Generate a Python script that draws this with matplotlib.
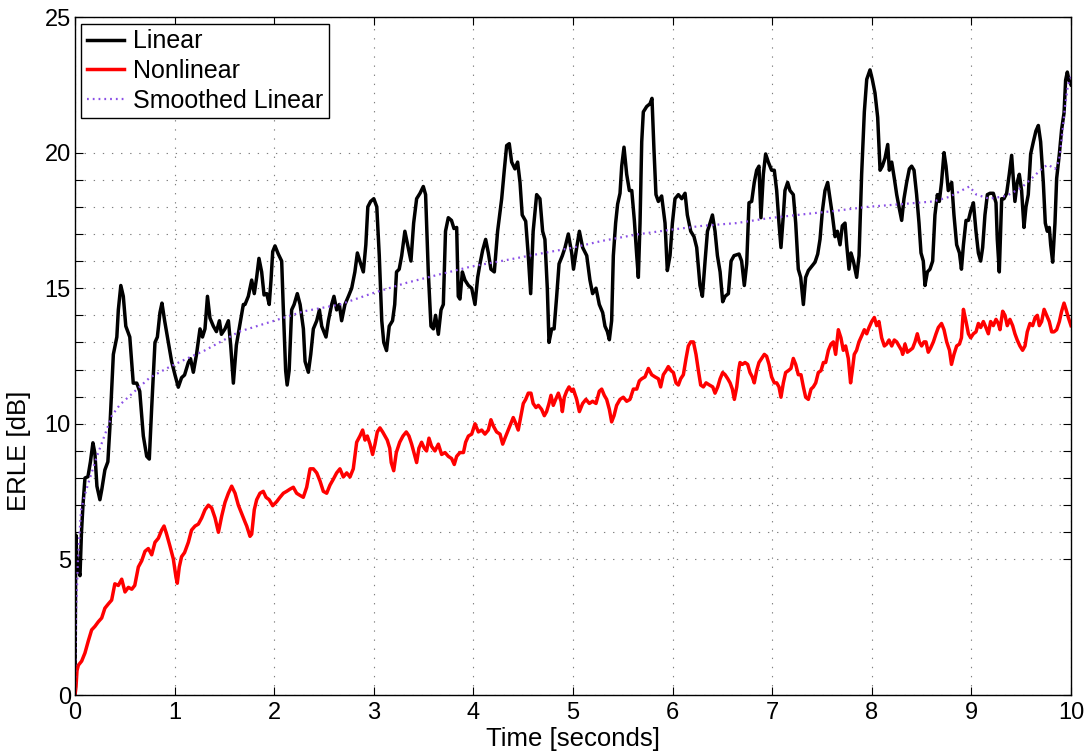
import matplotlib
matplotlib.use("Agg")
import matplotlib.pyplot as plt

plt.rcParams['font.family'] = ['Liberation Sans', 'DejaVu Sans']

# ---------------- data ----------------
linear_t = [0.000, 0.008, 0.02, 0.035, 0.05, 0.065, 0.08, 0.10, 0.13, 0.155, 0.18, 0.20, 0.22, 0.25, 0.27,
            0.30, 0.33, 0.35, 0.385, 0.42, 0.435, 0.46, 0.485, 0.51, 0.55, 0.585, 0.62, 0.65, 0.686, 0.72,
            0.746, 0.77, 0.803, 0.827, 0.853, 0.873, 0.90, 0.937, 0.97, 1.004, 1.037, 1.07, 1.10, 1.138,
            1.16, 1.188, 1.22, 1.255, 1.28, 1.305, 1.33, 1.355, 1.389, 1.42, 1.45, 1.47, 1.506, 1.54,
            1.563, 1.59, 1.62, 1.657, 1.69, 1.707, 1.74, 1.774, 1.80, 1.824, 1.847, 1.874, 1.898, 1.925,
            1.95, 1.968, 1.985, 2.008, 2.041, 2.075, 2.09, 2.115, 2.13, 2.15, 2.175, 2.20, 2.232, 2.26,
            2.293, 2.31, 2.343, 2.367, 2.393, 2.427, 2.454, 2.477, 2.52, 2.544, 2.577, 2.60, 2.627, 2.654,
            2.677, 2.71, 2.745, 2.778, 2.81, 2.835, 2.86, 2.895, 2.92, 2.94, 2.968, 3.00, 3.03, 3.055,
            3.08, 3.10, 3.128, 3.155, 3.188, 3.21, 3.228, 3.255, 3.28, 3.312, 3.345, 3.373, 3.40, 3.43,
            3.464, 3.497, 3.52, 3.547, 3.574, 3.598, 3.62, 3.648, 3.675, 3.698, 3.72, 3.748, 3.78, 3.805,
            3.832, 3.848, 3.865, 3.889, 3.915, 3.95, 3.983, 4.016, 4.043, 4.066, 4.093, 4.123, 4.15,
            4.176, 4.21, 4.243, 4.284, 4.31, 4.334, 4.36, 4.384, 4.417, 4.444, 4.468, 4.49, 4.525, 4.551,
            4.575, 4.60, 4.635, 4.668, 4.695, 4.718, 4.742, 4.759, 4.786, 4.81, 4.836, 4.86, 4.893, 4.92,
            4.953, 4.987, 5.005, 5.037, 5.064, 5.097, 5.138, 5.17, 5.197, 5.231, 5.264, 5.298, 5.321,
            5.345, 5.365, 5.388, 5.405, 5.428, 5.448, 5.472, 5.489, 5.512, 5.539, 5.566, 5.59, 5.616,
            5.64, 5.656, 5.673, 5.69, 5.706, 5.74, 5.773, 5.793, 5.813, 5.833, 5.857, 5.89, 5.924, 5.947,
            5.974, 5.998, 6.024, 6.058, 6.092, 6.125, 6.148, 6.182, 6.215, 6.242, 6.275, 6.299, 6.326,
            6.35, 6.376, 6.40, 6.426, 6.45, 6.477, 6.503, 6.527, 6.56, 6.587, 6.617, 6.667, 6.693, 6.72,
            6.744, 6.767, 6.794, 6.82, 6.844, 6.867, 6.887, 6.911, 6.934, 6.961, 6.994, 7.021, 7.045,
            7.068, 7.088, 7.112, 7.128, 7.155, 7.179, 7.212, 7.236, 7.262, 7.286, 7.313, 7.336, 7.363,
            7.396, 7.43, 7.457, 7.48, 7.504, 7.53, 7.557, 7.581, 7.604, 7.631, 7.654, 7.681, 7.704,
            7.731, 7.748, 7.771, 7.791, 7.815, 7.831, 7.848, 7.872, 7.898, 7.925, 7.949, 7.982, 8.005,
            8.032, 8.059, 8.083, 8.106, 8.133, 8.16, 8.176, 8.20, 8.226, 8.25, 8.273, 8.30, 8.323, 8.35,
            8.377, 8.40, 8.424, 8.45, 8.474, 8.494, 8.517, 8.534, 8.558, 8.584, 8.611, 8.634, 8.658,
            8.678, 8.70, 8.725, 8.745, 8.768, 8.802, 8.825, 8.852, 8.88, 8.90, 8.92, 8.946, 8.97, 8.993,
            9.02, 9.046, 9.07, 9.093, 9.113, 9.136, 9.16, 9.187, 9.22, 9.247, 9.26, 9.28, 9.304, 9.327,
            9.354, 9.38, 9.404, 9.42, 9.437, 9.46, 9.481, 9.504, 9.528, 9.548, 9.571, 9.595, 9.622,
            9.648, 9.672, 9.695, 9.722, 9.742, 9.762, 9.782, 9.796, 9.816, 9.839, 9.856, 9.883, 9.906,
            9.93, 9.946, 9.963, 9.98, 10.0]
linear_db = [0.0, 5.9, 5.0, 4.6, 4.4, 6.0, 7.0, 8.0, 8.05, 8.6, 9.3, 8.9, 7.7, 7.2, 7.6,
             8.3, 8.6, 9.85, 12.56, 13.2, 14.2, 15.1, 14.7, 13.6, 13.2, 11.5, 11.5, 11.2, 9.55, 8.8,
             8.7, 10.6, 13.0, 13.2, 14.1, 14.45, 13.8, 13.0, 12.3, 11.8, 11.35, 11.7, 11.8, 12.26,
             12.4, 11.9, 12.56, 13.5, 13.2, 13.5, 14.7, 13.9, 13.6, 13.4, 13.8, 13.3, 13.5, 13.8,
             12.9, 11.5, 12.9, 13.7, 14.4, 14.4, 14.7, 15.3, 14.8, 15.4, 16.1, 15.6, 14.75, 14.8,
             14.4, 15.3, 16.35, 16.56, 16.26, 16.0, 14.4, 11.96, 11.43, 11.96, 14.2, 14.4, 14.8, 14.4,
             13.5, 12.3, 11.9, 12.56, 13.5, 13.8, 14.2, 13.6, 13.2, 13.8, 14.4, 14.7, 14.2, 14.4,
             13.8, 14.4, 14.7, 15.0, 15.6, 16.3, 16.0, 15.6, 16.6, 18.0, 18.2, 18.3, 18.0, 16.2,
             13.8, 13.0, 12.7, 13.6, 13.8, 14.4, 15.6, 15.7, 16.2, 17.1, 16.5, 16.0, 17.4, 18.3,
             18.5, 18.75, 18.45, 15.6, 13.6, 13.5, 14.0, 13.3, 14.2, 14.4, 17.1, 17.6, 17.5, 17.2,
             17.24, 14.7, 14.6, 15.6, 15.3, 15.1, 15.0, 14.4, 15.4, 15.9, 16.4, 16.8, 16.3,
             15.7, 15.6, 17.1, 18.3, 19.35, 20.26, 20.33, 19.65, 19.4, 19.65, 18.9, 17.7, 17.47, 16.2,
             14.8, 17.1, 18.45, 18.3, 17.1, 16.8, 15.0, 13.0, 13.5, 13.5, 14.7, 15.9, 16.2, 16.5,
             17.0, 16.3, 15.7, 16.5, 17.1, 16.5, 16.2, 15.3, 14.8, 15.0, 14.4, 14.1, 13.6,
             13.4, 13.1, 13.8, 16.2, 17.4, 18.1, 18.5, 19.5, 20.2, 19.2, 18.6, 18.6, 17.5,
             16.2, 15.4, 17.4, 20.4, 21.5, 21.7, 21.8, 22.0, 20.1, 18.45, 18.2, 18.4, 17.4, 15.65,
             16.2, 17.4, 18.3, 18.45, 18.3, 18.5, 17.7, 17.1, 16.9, 16.5, 15.1, 14.7, 16.0,
             17.1, 17.4, 17.7, 17.1, 16.2, 15.6, 14.5, 14.7, 14.8, 16.0, 16.2, 16.26, 16.0, 15.1,
             15.9, 18.15, 18.2, 18.9, 19.35, 19.5, 17.6, 19.2, 19.95, 19.65, 19.35, 19.35, 18.6,
             17.4, 16.5, 17.7, 18.6, 18.9, 18.6, 18.45, 17.4, 15.7, 15.4, 14.4, 15.4, 15.65,
             15.8, 15.96, 16.26, 16.8, 17.85, 18.6, 18.9, 18.3, 17.7, 16.9, 17.1, 16.6, 17.3,
             17.4, 16.6, 15.7, 16.3, 16.0, 15.7, 15.4, 16.2, 19.2, 21.5, 22.7, 23.05, 22.7,
             22.2, 21.3, 19.35, 19.5, 19.8, 20.3, 19.35, 19.65, 19.05, 18.45, 18.0, 17.5, 18.3, 18.9,
             19.4, 19.5, 19.35, 18.45, 17.4, 16.3, 16.0, 15.1, 15.6, 15.7, 16.0, 17.7, 18.45,
             18.2, 18.9, 20.0, 19.5, 18.6, 18.9, 17.7, 16.6, 16.3, 15.7, 16.6, 17.5, 17.5, 17.85,
             18.15, 17.1, 16.3, 16.0, 16.5, 17.7, 18.45, 18.5, 18.5, 18.15, 16.8, 15.6, 18.3, 18.3,
             18.5, 19.2, 19.9, 19.05, 18.2, 18.9, 19.2, 18.6, 17.24, 18.0, 18.45, 19.95, 20.4,
             20.8, 21.0, 20.4, 18.9, 17.4, 17.1, 17.24, 16.6, 15.96, 17.4, 19.05, 19.95, 20.86,
             21.46, 22.67, 22.97, 22.67, 22.5]

nonlinear_t = [0.0, 0.01, 0.02, 0.034, 0.067, 0.10, 0.134, 0.167, 0.20, 0.234, 0.268, 0.30, 0.335, 0.368,
               0.40, 0.435, 0.469, 0.502, 0.536, 0.57, 0.60, 0.636, 0.67, 0.703, 0.736, 0.77, 0.803,
               0.837, 0.87, 0.894, 0.92, 0.954, 0.987, 1.014, 1.027, 1.047, 1.07, 1.10, 1.138, 1.17,
               1.205, 1.238, 1.272, 1.305, 1.339, 1.372, 1.406, 1.44, 1.473, 1.506, 1.54, 1.573, 1.607,
               1.64, 1.674, 1.707, 1.724, 1.757, 1.774, 1.80, 1.824, 1.857, 1.89, 1.918, 1.95, 1.985,
               2.025, 2.058, 2.092, 2.125, 2.158, 2.192, 2.225, 2.259, 2.292, 2.326, 2.36, 2.393, 2.427,
               2.46, 2.493, 2.527, 2.56, 2.594, 2.627, 2.66, 2.694, 2.728, 2.761, 2.794, 2.828, 2.861,
               2.888, 2.912, 2.935, 2.962, 2.988, 3.012, 3.035, 3.062, 3.089, 3.112, 3.135, 3.16, 3.175,
               3.20, 3.226, 3.26, 3.293, 3.326, 3.353, 3.38, 3.413, 3.43, 3.453, 3.48, 3.507, 3.53, 3.554,
               3.58, 3.614, 3.648, 3.681, 3.715, 3.748, 3.781, 3.808, 3.832, 3.865, 3.90, 3.922, 3.95,
               3.983, 4.016, 4.05, 4.083, 4.116, 4.15, 4.176, 4.20, 4.233, 4.267, 4.294, 4.317, 4.35,
               4.384, 4.40, 4.427, 4.45, 4.478, 4.501, 4.525, 4.551, 4.578, 4.60, 4.628, 4.652, 4.685,
               4.712, 4.735, 4.759, 4.779, 4.802, 4.826, 4.853, 4.88, 4.893, 4.913, 4.936, 4.96, 4.987,
               5.003, 5.037, 5.064, 5.097, 5.13, 5.164, 5.197, 5.231, 5.264, 5.288, 5.314, 5.338, 5.365,
               5.388, 5.412, 5.438, 5.472, 5.505, 5.539, 5.572, 5.606, 5.64, 5.666, 5.69, 5.723, 5.757,
               5.79, 5.823, 5.857, 5.88, 5.907, 5.934, 5.957, 5.984, 6.008, 6.034, 6.058, 6.081, 6.108,
               6.135, 6.158, 6.182, 6.209, 6.235, 6.259, 6.282, 6.309, 6.336, 6.37, 6.403, 6.426, 6.453,
               6.477, 6.503, 6.527, 6.554, 6.577, 6.60, 6.62, 6.644, 6.664, 6.677, 6.70, 6.727, 6.754,
               6.777, 6.80, 6.82, 6.844, 6.867, 6.894, 6.921, 6.944, 6.968, 6.994, 7.021, 7.045, 7.068,
               7.088, 7.112, 7.135, 7.162, 7.188, 7.212, 7.236, 7.262, 7.289, 7.313, 7.336, 7.363, 7.39,
               7.413, 7.437, 7.463, 7.49, 7.514, 7.537, 7.564, 7.59, 7.614, 7.637, 7.664, 7.69, 7.714,
               7.737, 7.764, 7.787, 7.804, 7.824, 7.847, 7.871, 7.898, 7.925, 7.949, 7.972, 7.999, 8.025,
               8.049, 8.072, 8.099, 8.126, 8.149, 8.173, 8.20, 8.226, 8.25, 8.273, 8.30, 8.31, 8.333,
               8.357, 8.383, 8.41, 8.434, 8.457, 8.477, 8.50, 8.524, 8.544, 8.567, 8.59, 8.618, 8.645,
               8.668, 8.70, 8.725, 8.752, 8.78, 8.80, 8.825, 8.852, 8.88, 8.90, 8.92, 8.946, 8.97, 8.993,
               9.02, 9.046, 9.07, 9.093, 9.12, 9.146, 9.17, 9.193, 9.22, 9.247, 9.27, 9.287, 9.314, 9.337,
               9.36, 9.387, 9.414, 9.437, 9.46, 9.487, 9.514, 9.538, 9.561, 9.588, 9.615, 9.64, 9.662,
               9.682, 9.705, 9.73, 9.755, 9.782, 9.806, 9.829, 9.856, 9.883, 9.906, 9.93, 9.95, 9.973,
               10.0]
nonlinear_db = [0.0, 0.3, 0.9, 1.1, 1.25, 1.55, 2.0, 2.4, 2.53, 2.7, 2.84, 3.2, 3.36, 3.5,
                4.1, 4.04, 4.27, 3.8, 3.97, 3.9, 4.04, 4.72, 4.95, 5.3, 5.4, 5.17, 5.63,
                5.78, 6.08, 6.23, 5.93, 5.48, 5.02, 4.34, 4.12, 4.72, 5.1, 5.25, 5.63, 6.08,
                6.23, 6.3, 6.53, 6.83, 7.0, 6.9, 6.53, 6.0, 6.6, 7.1, 7.44, 7.7, 7.44,
                7.0, 6.68, 6.38, 6.23, 5.85, 5.93, 6.83, 7.2, 7.44, 7.51, 7.29, 7.2, 6.98,
                7.13, 7.29, 7.44, 7.51, 7.59, 7.66, 7.44, 7.36, 7.29, 7.66, 8.34, 8.34, 8.19,
                7.89, 7.51, 7.44, 7.74, 7.96, 8.19, 8.34, 8.04, 8.19, 8.04, 8.34, 9.32, 9.55,
                9.77, 9.4, 9.55, 9.25, 8.87, 9.25, 9.7, 9.85, 9.7, 9.55, 9.4, 9.1, 8.57,
                8.27, 8.94, 9.32, 9.55, 9.7, 9.55, 9.25, 8.8, 8.57, 9.1, 9.32, 9.1, 9.0, 9.47,
                9.17, 9.0, 9.25, 8.87, 8.94, 8.8, 8.72, 8.5, 8.8, 8.94, 8.94, 9.32, 9.55,
                9.62, 10.0, 9.7, 9.77, 9.62, 9.77, 10.15, 9.92, 9.7, 9.62, 9.25, 9.47, 9.77,
                10.07, 10.23, 10.0, 9.77, 10.3, 10.75, 10.9, 11.13, 11.13, 10.75, 10.6, 10.68, 10.53,
                10.3, 10.45, 10.75, 11.05, 10.68, 10.9, 11.13, 10.83, 10.45, 10.98, 11.2, 11.36, 11.2,
                11.28, 10.9, 10.45, 10.75, 10.9, 10.75, 10.83, 10.75, 11.2, 11.28, 11.05, 10.9, 10.53,
                10.07, 10.3, 10.68, 10.9, 10.98, 10.83, 10.9, 11.28, 11.28, 11.58, 11.66, 11.73, 12.04,
                11.81, 11.73, 11.66, 11.36, 11.81, 11.96, 12.11, 11.96, 11.89, 11.51, 11.43, 11.66, 11.81,
                12.41, 12.87, 13.02, 13.02, 12.56, 11.96, 11.43, 11.36, 11.51, 11.43, 11.36, 11.13, 11.36,
                11.66, 11.89, 11.81, 11.66, 11.51, 11.28, 10.9, 11.36, 12.0, 12.26, 12.19, 12.26, 12.19,
                11.89, 11.73, 11.51, 11.96, 12.26, 12.41, 12.56, 12.49, 12.19, 11.73, 11.51, 11.51, 11.36,
                10.98, 11.51, 11.89, 11.96, 12.04, 12.41, 12.19, 11.81, 11.81, 11.36, 10.98, 10.9, 11.28,
                11.36, 11.51, 11.89, 11.96, 12.26, 12.26, 12.71, 12.94, 13.02, 12.56, 13.47, 13.17, 12.71,
                12.87, 12.41, 11.51, 11.96, 12.56, 12.71, 13.02, 13.24, 13.47, 13.32, 13.55, 13.77, 13.92,
                13.62, 13.77, 13.17, 12.87, 12.94, 13.09, 12.87, 13.09, 13.02, 12.87, 12.7, 12.56, 12.94,
                12.64, 12.71, 12.79, 13.02, 13.32, 13.02, 12.87, 13.02, 13.02, 12.64, 12.79, 13.02, 13.32,
                13.55, 13.7, 13.47, 13.02, 12.71, 12.19, 12.56, 12.87, 12.94, 13.17, 14.22, 13.77, 13.32, 13.17,
                13.32, 13.39, 13.7, 13.55, 13.77, 13.55, 13.32, 13.77, 13.62, 13.85, 13.7, 13.47, 14.15, 14.0,
                13.62, 13.85, 13.62, 13.32, 13.09, 12.87, 12.71, 12.87, 13.39, 13.7, 13.62, 13.92, 14.0,
                13.62, 13.77, 14.22, 14.0, 13.77, 13.39, 13.39, 13.47, 13.77, 14.15, 14.45, 14.22, 13.92,
                13.62]

smooth_t = [0.0, 0.01, 0.03, 0.06, 0.10, 0.15, 0.22, 0.30, 0.37, 0.45, 0.60, 0.75, 0.95, 1.12, 1.30,
            1.45, 1.65, 2.0, 2.3, 2.66, 3.0, 3.33, 3.65, 3.98, 4.32, 4.65, 4.99, 5.3, 5.64, 5.97, 6.3,
            6.64, 6.96, 7.3, 7.63, 7.96, 8.3, 8.62, 8.78, 8.9, 8.98, 9.05, 9.18, 9.35, 9.5, 9.62, 9.72,
            9.77, 9.84, 9.88, 9.91, 9.94, 9.97, 10.0]
smooth_db = [0.0, 3.0, 5.0, 6.8, 7.4, 8.0, 8.8, 9.6, 10.3, 10.7, 11.2, 11.7, 12.1, 12.4, 12.7,
             13.0, 13.4, 13.8, 14.15, 14.4, 14.83, 15.2, 15.5, 15.8, 16.03, 16.26, 16.49, 16.75, 16.98,
             17.15, 17.3, 17.4, 17.58, 17.72, 17.85, 18.0, 18.1, 18.2, 18.37, 18.6, 18.75, 18.45, 18.3,
             18.4, 18.7, 19.1, 19.45, 19.55, 19.4, 19.7, 20.6, 21.7, 22.5, 22.8]

series_labels = ['Linear', 'Nonlinear', 'Smoothed Linear']
x_ticks = list(range(0, 11))
y_ticks = [0] + list(range(5, 21)) + [25]
y_ticklabels = [str(v) if v % 5 == 0 else '' for v in y_ticks]

# ---------------- figure ----------------
W, H = 1089, 753
fig = plt.figure(figsize=(W / 100, H / 100), dpi=100)
ax = fig.add_axes([75 / W, 58 / H, 996 / W, 678 / H])

ax.plot(linear_t, linear_db, color='black', lw=2.5, label=series_labels[0], solid_joinstyle='round')
ax.plot(nonlinear_t, nonlinear_db, color='#ff0000', lw=2.5, label=series_labels[1], solid_joinstyle='round')
ax.plot(smooth_t, smooth_db, color='#8a4fe6', lw=1.6, linestyle=(0, (0.8, 1.8)),
        label=series_labels[2])

ax.set_xlim(0, 10)
ax.set_ylim(0, 25)
ax.set_xticks(x_ticks)
ax.set_xticklabels([str(v) for v in x_ticks])
ax.set_yticks(y_ticks)
ax.set_yticklabels(y_ticklabels)

ax.grid(True, linestyle=(0, (1.2, 7)), color='#7f7f7f', lw=0.8)
ax.set_axisbelow(True)

ax.tick_params(direction='in', top=True, right=True, length=6, width=0.8,
               labelsize=17, colors='black')
ax.tick_params(axis='x', pad=5)
ax.tick_params(axis='y', pad=3)
for s in ax.spines.values():
    s.set_linewidth(1.0)

ax.set_xlabel('Time [seconds]', fontsize=18.5, labelpad=2)
ax.set_ylabel('ERLE [dB]', fontsize=18.5)
ax.yaxis.set_label_coords(-0.044, 0.36)

leg = ax.legend(loc='upper left', bbox_to_anchor=(6 / 996, 1 - 7 / 678), borderaxespad=0,
                fontsize=18, frameon=True, fancybox=False, framealpha=1, edgecolor='black',
                handlelength=1.5, handletextpad=0.35, labelspacing=0.22, borderpad=0.22)
leg.get_frame().set_linewidth(1.0)

fig.savefig('out.png', dpi=100, facecolor='white')
